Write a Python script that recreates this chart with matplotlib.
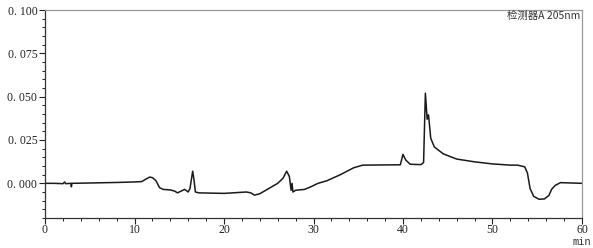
import numpy as np
import matplotlib
matplotlib.use("Agg")
import matplotlib.pyplot as plt
from matplotlib.ticker import MultipleLocator, FuncFormatter

# chromatogram: time (min) / signal
t = [0.0, 1.0, 2.0, 2.2, 2.3, 2.9, 2.95, 3.0, 5.0, 8.0, 10.0, 10.8, 11.3, 11.7, 12.0,
     12.4, 12.8, 13.2, 14.0, 14.5, 14.8, 15.2, 15.6, 16.0, 16.2, 16.35, 16.5, 16.65,
     16.8, 17.2, 20.0, 22.5, 23.0, 23.4, 24.0, 25.0, 26.0, 26.6, 27.0, 27.3, 27.5,
     27.6, 27.7, 28.0, 29.0, 29.7, 30.5, 31.5, 33.0, 34.5, 35.5, 39.7, 40.0, 40.3,
     40.8, 42.0, 42.3, 42.5, 42.7, 42.85, 43.1, 43.5, 44.5, 46.0, 48.0, 50.0, 52.0,
     52.8, 53.6, 53.9, 54.2, 54.6, 55.2, 55.8, 56.3, 56.6, 57.0, 57.6, 60.0]
sig = [0.0000, 0.0000, -0.0002, 0.0008, -0.0002, 0.0000, -0.0020, 0.0000, 0.0002,
       0.0005, 0.0008, 0.0010, 0.0025, 0.0036, 0.0033, 0.0015, -0.0025, -0.0035,
       -0.0038, -0.0045, -0.0055, -0.0045, -0.0035, -0.0050, -0.0030, 0.0020, 0.0070,
       0.0020, -0.0050, -0.0055, -0.0058, -0.0050, -0.0055, -0.0068, -0.0060, -0.0030,
       0.0000, 0.0030, 0.0070, 0.0040, -0.0040, 0.0000, -0.0050, -0.0040, -0.0035,
       -0.0020, 0.0000, 0.0015, 0.0050, 0.0090, 0.0105, 0.0107, 0.0167, 0.0135,
       0.0110, 0.0108, 0.0120, 0.0520, 0.0370, 0.0395, 0.0260, 0.0210, 0.0170,
       0.0140, 0.0124, 0.0112, 0.0105, 0.0105, 0.0095, 0.0060, -0.0030, -0.0075,
       -0.0092, -0.0090, -0.0070, -0.0035, -0.0012, 0.0004, 0.0000]

detector = "检测器A 205nm"

W, H = 593, 248
fig = plt.figure(figsize=(W / 100, H / 100), dpi=100)
ax = fig.add_axes([45 / W, (H - 218) / H, (582 - 45) / W, (218 - 10) / H])

ax.plot(t, sig, color="#1a1a1a", lw=1.1)
ax.set_xlim(0, 60)
ax.set_ylim(-0.02, 0.1)

ax.xaxis.set_major_locator(MultipleLocator(10))
ax.xaxis.set_minor_locator(MultipleLocator(2))
ax.yaxis.set_major_locator(MultipleLocator(0.025))
ax.yaxis.set_minor_locator(MultipleLocator(0.005))
ax.yaxis.set_major_formatter(FuncFormatter(lambda v, p: f"{v:.3f}".replace(".", ". ").replace("-0. 000", "0. 000")))

ax.tick_params(which="major", length=4, width=0.8, labelsize=8.5, pad=1.5, colors="#222222")
ax.tick_params(axis="x", which="major", pad=0.5)
ax.tick_params(which="minor", length=2, width=0.6)
for lab in ax.get_xticklabels() + ax.get_yticklabels():
    lab.set_family("Liberation Serif")
for s in ax.spines.values():
    s.set_linewidth(0.9)
    s.set_color("#333333")
ax.spines["top"].set_color("#999999")
ax.spines["right"].set_color("#999999")

ax.text(0.997, 0.995, detector, transform=ax.transAxes, ha="right", va="top",
        fontsize=7.5, family=["Noto Sans CJK SC", "DejaVu Sans"], color="#333333")
fig.text(582 / W, 1 / H, "min", ha="center", va="bottom", fontsize=7.5,
         family="Liberation Mono", color="#333333")

fig.savefig("out.png", dpi=100)
